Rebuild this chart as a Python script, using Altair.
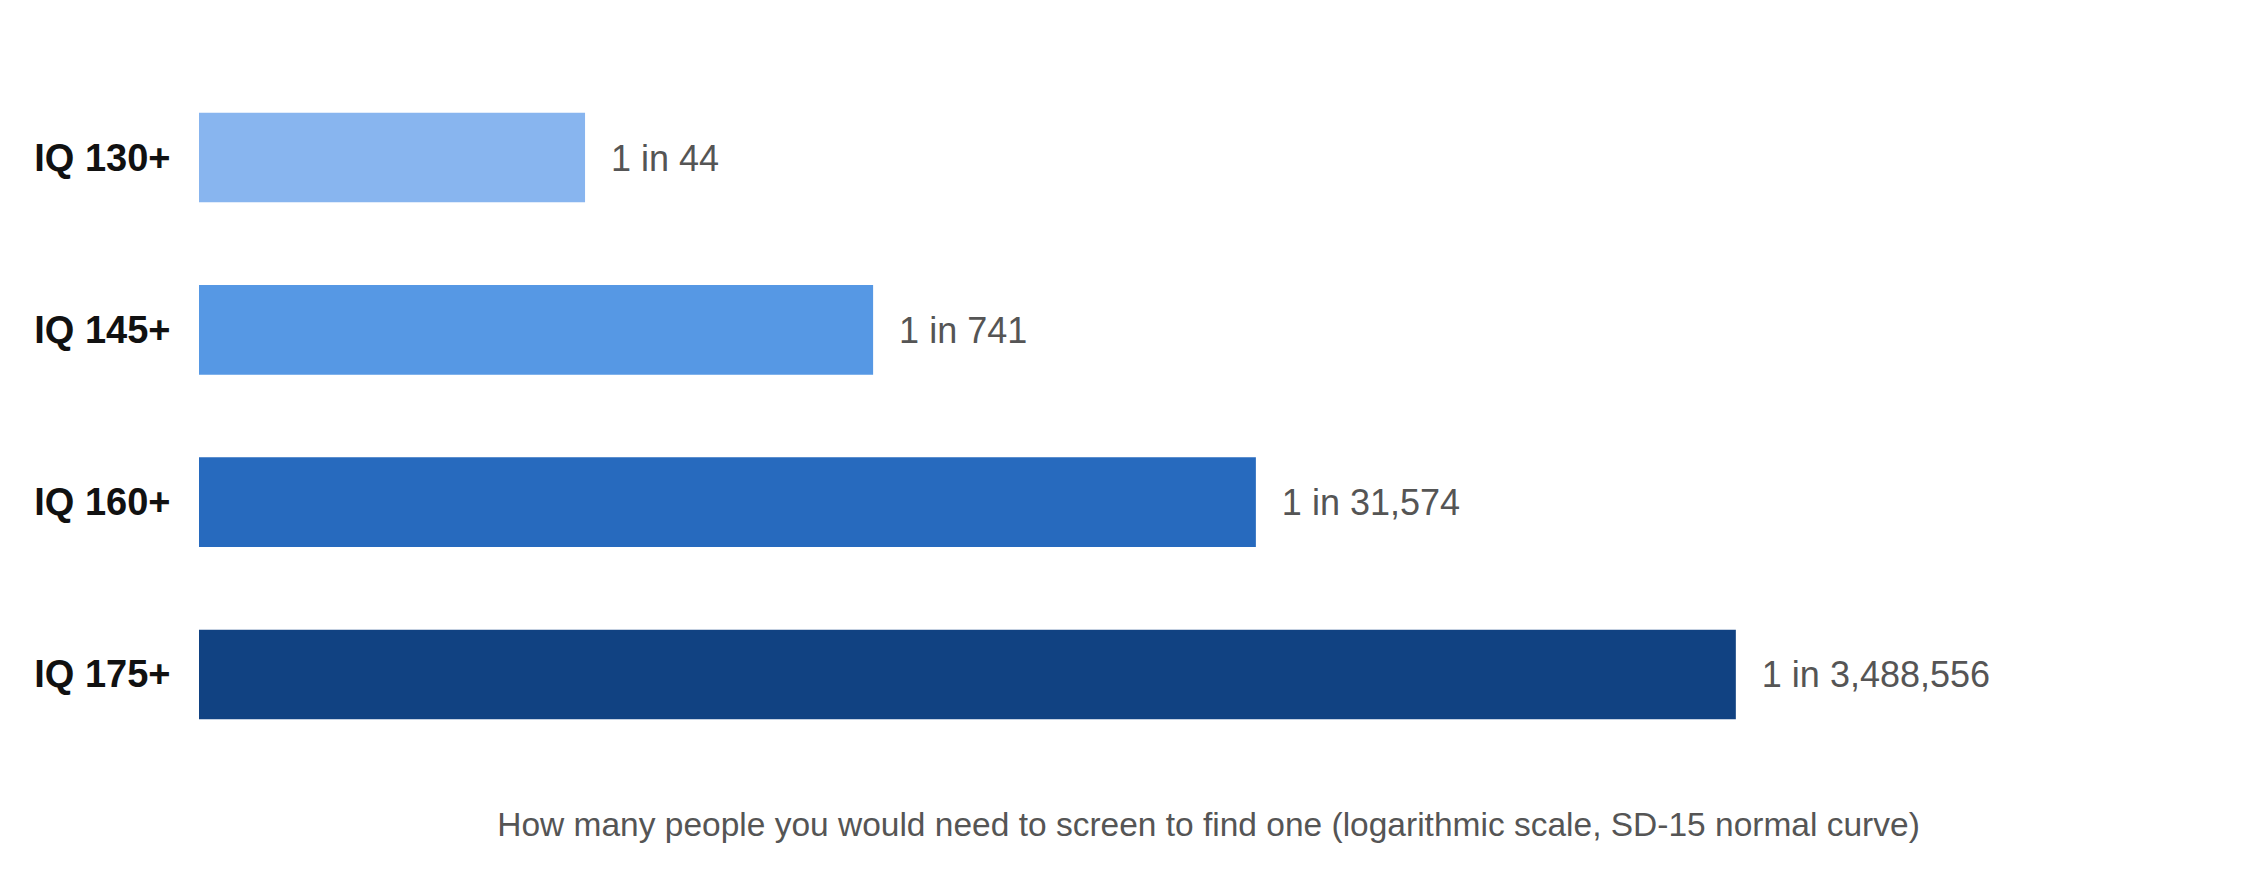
import pandas as pd
import altair as alt

labels = ["IQ 130+", "IQ 145+", "IQ 160+", "IQ 175+"]
counts = [44, 741, 31574, 3488556]
colors = ["#88b5ef", "#5698e4", "#276abe", "#114282"]

df = pd.DataFrame({"label": labels, "count": counts})
df["text"] = ["1 in {:,}".format(c) for c in counts]

base = alt.Chart(df).encode(
    y=alt.Y(
        "label:N",
        sort=labels,
        scale=alt.Scale(paddingInner=0.48, paddingOuter=0.3),
        axis=alt.Axis(
            title=None, domain=False, ticks=False,
            labelFontSize=38, labelFontWeight="bold", labelColor="#111111",
            labelPadding=29, minExtent=186, labelOffset=2,
        ),
    )
)

xscale = alt.Scale(type="log", domain=[1, 3.9e8], nice=False)

bars = base.mark_bar().encode(
    x=alt.X(
        "count:Q",
        scale=xscale,
        axis=alt.Axis(
            title="How many people you would need to screen to find one (logarithmic scale, SD-15 normal curve)",
            domain=False, ticks=False, labels=False, grid=False,
            titleFontSize=33.5, titleFontWeight="normal", titleColor="#555555",
            titlePadding=38,
        ),
    ),
    x2=alt.datum(1),
    color=alt.Color("label:N", scale=alt.Scale(domain=labels, range=colors), legend=None),
)

values = base.mark_text(align="left", baseline="middle", dx=26, dy=2, fontSize=36, color="#555555").encode(
    x=alt.X("count:Q", scale=xscale),
    text="text:N",
)

chart = alt.layer(bars, values).properties(
    width=2018,
    height=710,
    padding={"left": 5, "top": 53, "right": 5, "bottom": 5},
).configure(
    font="Liberation Sans"
).configure_view(
    stroke=None
)

chart.save("out.html", embed_options={"renderer": "svg", "actions": False})
